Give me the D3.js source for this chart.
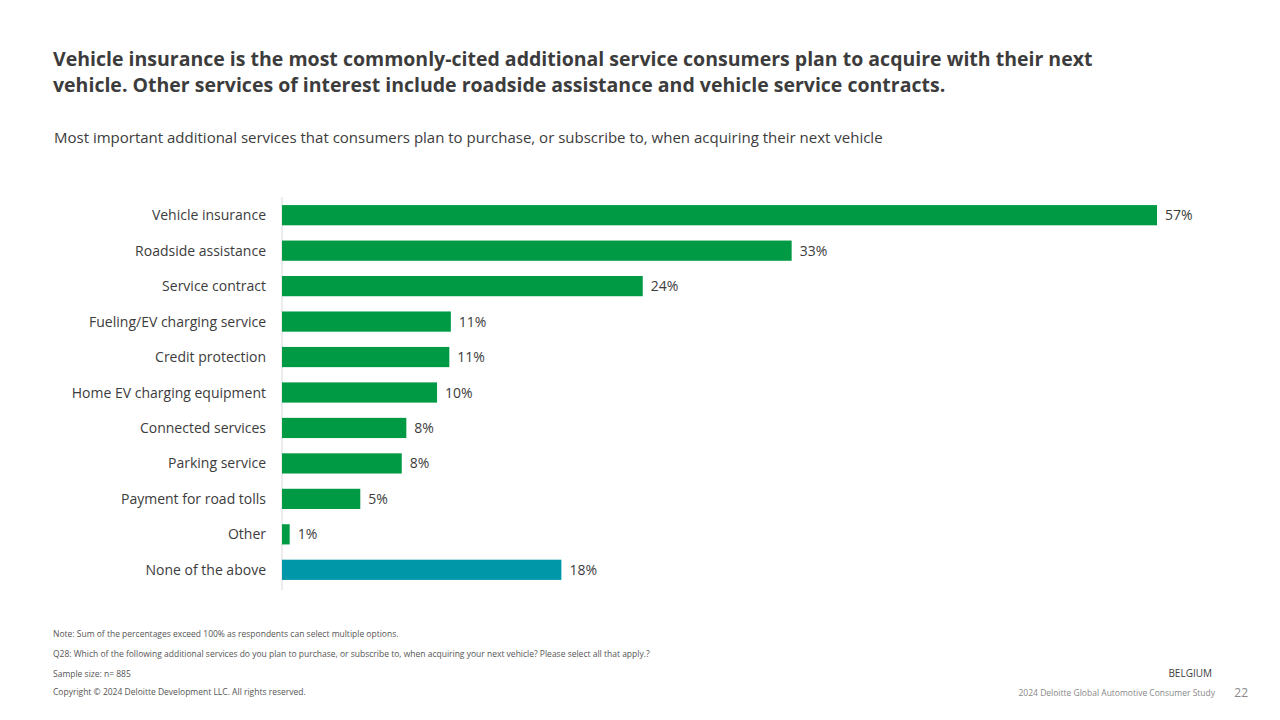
<!DOCTYPE html>
<html><head><meta charset="utf-8">
<script src="https://cdn.jsdelivr.net/npm/d3@7"></script>
<style>
body{margin:0;background:#fff;font-family:"Open Sans","Noto Sans",sans-serif;}
</style></head>
<body><svg id="chart" width="1280" height="720"></svg>
<script>
const categories = ["Vehicle insurance","Roadside assistance","Service contract","Fueling/EV charging service","Credit protection","Home EV charging equipment","Connected services","Parking service","Payment for road tolls","Other","None of the above"];
const values = [57, 33.2, 23.5, 11.0, 10.9, 10.1, 8.1, 7.8, 5.1, 0.5, 18.2];
const valueLabels = ["57%","33%","24%","11%","11%","10%","8%","8%","5%","1%","18%"];
const green = "#009A44", teal = "#0097A9", textCol = "#3c3c3c";

const svg = d3.select("#chart");

svg.append("text").attr("x",53).attr("y",66).attr("font-size",19.5).attr("font-weight",700).attr("fill",textCol)
  .text("Vehicle insurance is the most commonly-cited additional service consumers plan to acquire with their next");
svg.append("text").attr("x",53).attr("y",92).attr("font-size",19.5).attr("font-weight",700).attr("fill",textCol)
  .text("vehicle. Other services of interest include roadside assistance and vehicle service contracts.");
svg.append("text").attr("x",54).attr("y",143).attr("font-size",15).attr("fill",textCol)
  .text("Most important additional services that consumers plan to purchase, or subscribe to, when acquiring their next vehicle");

const x = d3.scaleLinear().domain([0,57]).range([282,1157]);
const y = d3.scaleBand().domain(categories).range([198,587]).paddingInner(0.43).paddingOuter(0.2);

svg.append("line").attr("x1",282).attr("x2",282).attr("y1",197).attr("y2",590).attr("stroke","#d9d9d9");

svg.selectAll("rect.bar").data(categories).enter().append("rect")
  .attr("x",x(0)).attr("y",d=>y(d)).attr("height",y.bandwidth())
  .attr("width",(d,i)=>x(values[i])-x(0))
  .attr("fill",(d,i)=>i===categories.length-1?teal:green);

svg.selectAll("text.cat").data(categories).enter().append("text")
  .attr("x",266).attr("y",d=>y(d)+y.bandwidth()/2+5).attr("text-anchor","end")
  .attr("font-size",14).attr("fill",textCol).text(d=>d);

svg.selectAll("text.val").data(categories).enter().append("text")
  .attr("x",(d,i)=>x(values[i])+8).attr("y",d=>y(d)+y.bandwidth()/2+5)
  .attr("font-size",14).attr("fill",textCol).text((d,i)=>valueLabels[i]);

const notes = [
  [53,637,"Note: Sum of the percentages exceed 100% as respondents can select multiple options."],
  [53,657,"Q28: Which of the following additional services do you plan to purchase, or subscribe to, when acquiring your next vehicle? Please select all that apply.?"],
  [53,677,"Sample size: n= 885"],
  [53,695,"Copyright © 2024 Deloitte Development LLC. All rights reserved."]
];
notes.forEach(n=>svg.append("text").attr("x",n[0]).attr("y",n[1]).attr("font-size",8.5).attr("fill",n[3]?"#888":"#555").text(n[2]));
svg.append("text").attr("x",1212).attr("y",677).attr("text-anchor","end").attr("font-size",10).attr("fill",textCol).text("BELGIUM");
svg.append("text").attr("x",1215).attr("y",696).attr("text-anchor","end").attr("font-size",8.5).attr("fill","#888").text("2024 Deloitte Global Automotive Consumer Study");
svg.append("text").attr("x",1248).attr("y",697).attr("text-anchor","end").attr("font-size",12).attr("fill","#888").text("22");
</script></body></html>
